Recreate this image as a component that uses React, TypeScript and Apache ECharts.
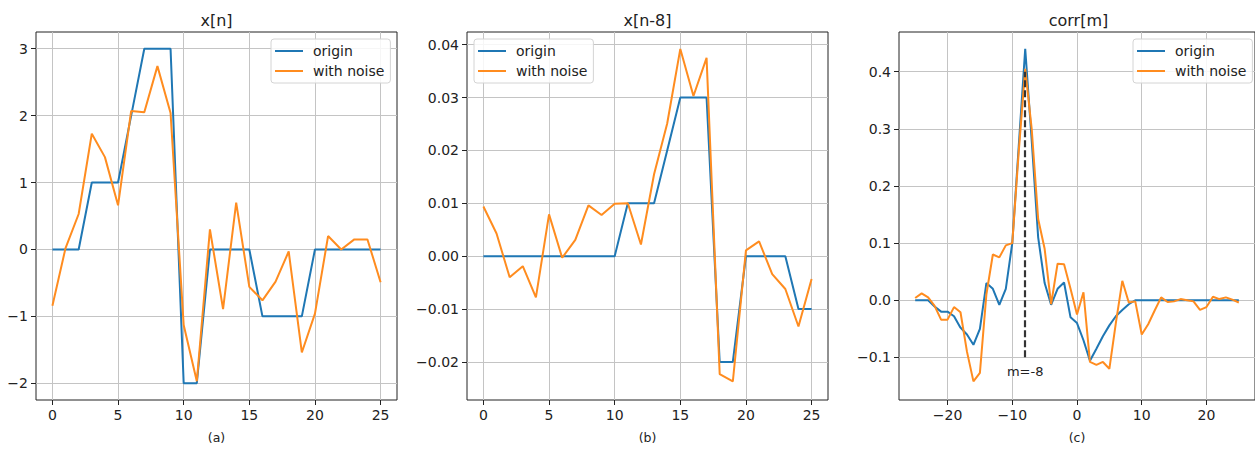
import React, { useEffect, useRef } from "react";
import * as echarts from "echarts";

// ---------- data ----------
const nIndex = [0, 1, 2, 3, 4, 5, 6, 7, 8, 9, 10, 11, 12, 13, 14, 15, 16, 17, 18, 19, 20, 21, 22, 23, 24, 25];

const xnOrigin = [0, 0, 0, 1, 1, 1, 2, 3, 3, 3, -2, -2, 0, 0, 0, 0, -1, -1, -1, -1, 0, 0, 0, 0, 0, 0];
const xnNoise = [-0.84, 0.02, 0.53, 1.73, 1.38, 0.66, 2.07, 2.05, 2.74, 2.04, -1.13, -1.97, 0.3, -0.89, 0.7, -0.56, -0.76, -0.48, -0.03, -1.54, -0.96, 0.2, 0.0, 0.15, 0.15, -0.49];

const shiftedOrigin = [0, 0, 0, 0, 0, 0, 0, 0, 0, 0, 0, 0.01, 0.01, 0.01, 0.02, 0.03, 0.03, 0.03, -0.02, -0.02, 0, 0, 0, 0, -0.01, -0.01];
const shiftedNoise = [0.0094, 0.0043, -0.004, -0.0019, -0.0078, 0.0079, -0.0003, 0.0031, 0.0096, 0.0078, 0.0099, 0.01, 0.0022, 0.0155, 0.0251, 0.0392, 0.0303, 0.0375, -0.0223, -0.0237, 0.0011, 0.0028, -0.0034, -0.0062, -0.0133, -0.0043];

const lags = [-25, -24, -23, -22, -21, -20, -19, -18, -17, -16, -15, -14, -13, -12, -11, -10, -9, -8, -7, -6, -5, -4, -3, -2, -1, 0, 1, 2, 3, 4, 5, 6, 7, 8, 9, 10, 11, 12, 13, 14, 15, 16, 17, 18, 19, 20, 21, 22, 23, 24, 25];
const corrOrigin = [0, 0, 0, -0.011, -0.02, -0.02, -0.028, -0.048, -0.06, -0.078, -0.05, 0.03, 0.02, -0.008, 0.02, 0.1, 0.27, 0.44, 0.28, 0.11, 0.03, -0.008, 0.02, 0.031, -0.03, -0.04, -0.07, -0.106, -0.085, -0.063, -0.044, -0.028, -0.017, -0.007, 0, 0, 0, 0, 0, 0, 0, 0, 0, 0, 0, 0, 0, 0, 0, 0, 0];
const corrNoise = [0.004, 0.012, 0.005, -0.01, -0.034, -0.034, -0.012, -0.021, -0.09, -0.142, -0.127, 0.01, 0.08, 0.075, 0.096, 0.1, 0.26, 0.405, 0.3, 0.142, 0.09, -0.007, 0.064, 0.063, 0.02, -0.025, 0.014, -0.108, -0.113, -0.108, -0.12, -0.04, 0.034, -0.004, -0.002, -0.06, -0.042, -0.018, 0.005, -0.003, -0.002, 0.002, 0, -0.002, -0.017, -0.012, 0.006, 0.002, 0.005, 0.001, -0.004];

const PEAK_LAG = -8;
const PEAK_LINE_FROM = -0.1;
const PEAK_LINE_TO = 0.4;

const xTicksAB = [0, 5, 10, 15, 20, 25];
const yTicksA = [-2, -1, 0, 1, 2, 3];
const yTicksB = [-0.02, -0.01, 0, 0.01, 0.02, 0.03, 0.04];
const xTicksC = [-20, -10, 0, 10, 20];
const yTicksC = [-0.1, 0, 0.1, 0.2, 0.3, 0.4];

const titles = ["x[n]", "x[n-8]", "corr[m]"];
const subLabels = ["(a)", "(b)", "(c)"];
const seriesNames = ["origin", "with noise"];

// ---------- styling ----------
const FONT = "'DejaVu Sans', sans-serif";
const TXT = "#222";
const BLUE = "#1f77b4";
const ORANGE = "#ff8c1f";
const GRIDLINE = "#c4c4c4";

const grids = [
  { left: 36, top: 32, width: 361, height: 374 },
  { left: 467, top: 32, width: 361, height: 374 },
  { left: 899, top: 32, width: 359, height: 374 },
];

const intFmt = (v: number) => (v < 0 ? "\u2212" : "") + Math.abs(Math.round(v));
const fixFmt = (d: number) => (v: number) => (Math.abs(v) < 1e-9 ? (0).toFixed(d) : (v < 0 ? "\u2212" : "") + Math.abs(v).toFixed(d));

function mkX(gi: number, min: number, max: number, ticks: number[], name: string) {
  return {
    type: "value",
    gridIndex: gi,
    min,
    max,
    axisLine: { show: false, onZero: false },
    axisTick: { show: true, length: 5, inside: false, customValues: ticks, lineStyle: { color: TXT, width: 1 } },
    axisLabel: { customValues: ticks, formatter: intFmt, fontSize: 14, color: TXT, margin: 8, fontFamily: FONT },
    splitLine: { show: true, lineStyle: { color: GRIDLINE, width: 1 } },
    name,
    nameLocation: "middle",
    nameGap: 31,
    nameTextStyle: { fontSize: 12.5, color: TXT, fontFamily: FONT },
  };
}

function mkY(gi: number, min: number, max: number, ticks: number[], fmt: (v: number) => string) {
  return {
    type: "value",
    gridIndex: gi,
    min,
    max,
    axisLine: { show: false, onZero: false },
    axisTick: { show: true, length: 5, inside: false, customValues: ticks, lineStyle: { color: TXT, width: 1 } },
    axisLabel: { customValues: ticks, formatter: fmt, fontSize: 14, color: TXT, margin: 8, fontFamily: FONT },
    splitLine: { show: true, lineStyle: { color: GRIDLINE, width: 1 } },
  };
}

function pairs(xs: number[], ys: number[]) {
  return xs.map((x, i) => [x, ys[i]]);
}

function mkLine(gi: number, name: string, color: string, data: number[][], z: number) {
  return {
    type: "line",
    name,
    xAxisIndex: gi,
    yAxisIndex: gi,
    data,
    symbol: "none",
    showSymbol: false,
    lineStyle: { color, width: 2 },
    itemStyle: { color },
    z,
  };
}

function mkLegend(left: number) {
  return {
    orient: "vertical",
    left,
    top: 39,
    data: seriesNames,
    icon: "rect",
    itemWidth: 28,
    itemHeight: 2,
    itemGap: 6,
    selectedMode: false,
    textStyle: { fontSize: 14, color: TXT, fontFamily: FONT, lineHeight: 14, padding: [0, 0, 0, 5] },
    backgroundColor: "rgba(255,255,255,0.85)",
    borderColor: "#d4d4d4",
    borderWidth: 1,
    borderRadius: 3,
    padding: [5, 6, 5, 4],
  };
}

export default function App() {
  const ref = useRef<HTMLDivElement>(null);

  useEffect(() => {
    if (!ref.current) return;
    const chart = echarts.init(ref.current, undefined, { renderer: "svg" });

    const option = {
      animation: false,
      backgroundColor: "#fff",
      grid: grids.map((g) => ({ ...g, show: true, borderColor: TXT, borderWidth: 1, backgroundColor: "transparent", containLabel: false })),
      xAxis: [
        mkX(0, -1.25, 26.25, xTicksAB, subLabels[0]),
        mkX(1, -1.25, 26.25, xTicksAB, subLabels[1]),
        mkX(2, -27.5, 27.5, xTicksC, subLabels[2]),
      ],
      yAxis: [
        mkY(0, -2.25, 3.25, yTicksA, intFmt),
        mkY(1, -0.0272, 0.0424, yTicksB, fixFmt(2)),
        mkY(2, -0.1746, 0.4694, yTicksC, fixFmt(1)),
      ],
      legend: [mkLegend(271), mkLegend(474), mkLegend(1133)],
      graphic: titles.map((t, i) => ({
        type: "text",
        x: grids[i].left + grids[i].width / 2,
        y: 20,
        style: { text: t, fontSize: 16, fontFamily: FONT, fill: TXT, align: "center", verticalAlign: "middle" },
        z: 10,
      })),
      series: [
        mkLine(0, seriesNames[0], BLUE, pairs(nIndex, xnOrigin), 3),
        mkLine(0, seriesNames[1], ORANGE, pairs(nIndex, xnNoise), 4),
        mkLine(1, seriesNames[0], BLUE, pairs(nIndex, shiftedOrigin), 3),
        mkLine(1, seriesNames[1], ORANGE, pairs(nIndex, shiftedNoise), 4),
        mkLine(2, seriesNames[0], BLUE, pairs(lags, corrOrigin), 3),
        mkLine(2, seriesNames[1], ORANGE, pairs(lags, corrNoise), 4),
        {
          type: "line",
          name: "peak",
          xAxisIndex: 2,
          yAxisIndex: 2,
          data: [],
          z: 6,
          markLine: {
            silent: true,
            symbol: "none",
            animation: false,
            lineStyle: { color: "#333", width: 2.2, type: [7, 3] },
            label: {
              show: true,
              position: "start",
              distance: 8,
              formatter: `m=${PEAK_LAG}`,
              fontSize: 13,
              fontFamily: FONT,
              color: TXT,
            },
            data: [[{ coord: [PEAK_LAG, PEAK_LINE_FROM] }, { coord: [PEAK_LAG, PEAK_LINE_TO] }]],
          },
        },
      ],
    };

    chart.setOption(option as any);
    return () => chart.dispose();
  }, []);

  return (
    <div
      ref={ref}
      style={{ position: "fixed", left: 0, top: 0, width: 1255, height: 449, background: "#fff" }}
    />
  );
}
